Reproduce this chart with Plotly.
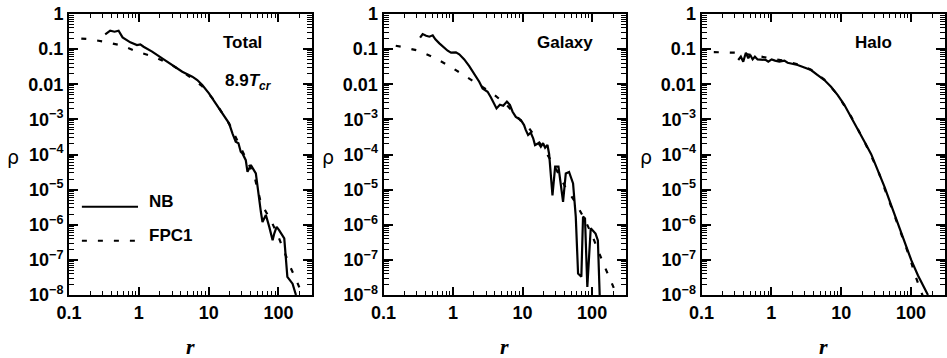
import plotly.graph_objects as go

# ---------------- data ----------------
panel_names = ["Total", "Galaxy", "Halo"]

total_nb_r = [0.33, 0.389, 0.449, 0.513, 0.585, 0.755, 0.94, 1.05, 1.17, 1.55, 2.16, 3.0, 4.19, 5.83, 6.87,
              8.1, 10.1, 12.6, 15.7, 19.6, 21.9, 24.4, 26.7, 28.8, 30.5, 34, 36, 40.2, 47.4, 50, 56, 59, 66,
              73.8, 82.4, 87, 94, 102, 121, 134, 159, 178]
total_nb_rho = [0.264, 0.335, 0.313, 0.335, 0.216, 0.156, 0.131, 0.137, 0.117, 0.085, 0.0546, 0.0352, 0.0228,
                0.0164, 0.0132, 0.0095, 0.0055, 0.00285, 0.00148, 7.7e-4, 4.0e-4, 2.3e-4, 2.1e-4, 1.2e-4,
                1.07e-4, 6.9e-5, 3.2e-5, 5.0e-5, 2.9e-5, 1.2e-5, 2.3e-6, 1.2e-6, 1.9e-6, 8.7e-7, 3.6e-7,
                5.6e-7, 8.7e-7, 7.0e-7, 4.1e-7, 3.3e-8, 2.1e-8, 1.0e-8]
total_fpc_r = [0.15, 0.186, 0.322, 0.573, 0.94, 1.63, 3.0, 5.0, 8.0, 12.0, 20.0, 30.0, 45.0, 56.0, 80.0,
               100.0, 130.0, 146.0, 184.0, 220.0]
total_fpc_rho = [0.2, 0.194, 0.163, 0.126, 0.085, 0.061, 0.035, 0.018, 0.009, 0.0035, 7e-4, 1.3e-4, 2.5e-5,
                 4.2e-6, 1.2e-6, 4.5e-7, 1.1e-7, 6.6e-8, 2.4e-8, 1.0e-8]

galaxy_nb_r = [0.336, 0.366, 0.41, 0.457, 0.51, 0.557, 0.636, 0.75, 0.837, 0.935, 1.1, 1.23, 1.45, 1.71,
               2.02, 2.38, 2.66, 3.14, 3.51, 3.91, 4.22, 4.72, 5.27, 5.95, 6.57, 7.18, 8.0, 9.46, 10.5, 11.1,
               12.0, 13.1, 14.2, 15.1, 16.9, 18.3, 19.7, 21.1, 22.8, 24.1, 26.9, 29.4, 32.8, 38.2, 41.8,
               46.6, 53.2, 58.2, 62.8, 70.0, 74.0, 79.0, 85.3, 95.5, 112.0, 121.0, 130.0]
galaxy_nb_rho = [0.211, 0.269, 0.241, 0.226, 0.247, 0.19, 0.146, 0.105, 0.09, 0.079, 0.081, 0.071, 0.051,
                 0.033, 0.0204, 0.0118, 0.0076, 0.0061, 0.0042, 0.0026, 0.00205, 0.0026, 0.00245, 0.0032,
                 0.0026, 0.00165, 0.00118, 9.5e-4, 6.9e-4, 5.0e-4, 3.6e-4, 4.2e-4, 2.9e-4, 1.86e-4, 2.1e-4,
                 1.66e-4, 2.1e-4, 1.55e-4, 1.86e-4, 1.02e-4, 6.9e-6, 4.5e-5, 4.5e-5, 4.5e-6, 2.9e-5, 3.2e-5,
                 1.5e-5, 1.7e-6, 4.1e-8, 3.3e-8, 1.7e-6, 1.5e-6, 1.7e-8, 7.9e-7, 5.6e-7, 3.6e-7, 5e-9]
galaxy_fpc_r = [0.15, 0.18, 0.32, 0.54, 0.885, 1.45, 2.5, 3.7, 6.0, 10.0, 12.4, 20.0, 30.0, 41.8, 57.0,
                80.0, 100.0, 130.0, 148.0, 185.0, 230.0]
galaxy_fpc_rho = [0.125, 0.117, 0.09, 0.057, 0.033, 0.018, 0.009, 0.0055, 0.0025, 8e-4, 5.6e-4, 1.5e-4,
                  4e-5, 1.1e-5, 4.5e-6, 1.3e-6, 5e-7, 1.3e-7, 7.1e-8, 2.6e-8, 9e-9]

halo_nb_r = [0.336, 0.366, 0.396, 0.432, 0.468, 0.5, 0.54, 0.582, 0.636, 0.75, 0.837, 0.905, 1.01, 1.13,
             1.3, 1.54, 1.71, 1.91, 2.38, 2.97, 3.7, 4.61, 5.75, 7.16, 8.93, 11.1, 13.9, 17.3, 21.6, 26.9,
             33.5, 41.8, 52.0, 64.8, 80.9, 101.0, 126.0, 175.0]
halo_nb_rho = [0.049, 0.061, 0.044, 0.079, 0.055, 0.068, 0.051, 0.061, 0.051, 0.051, 0.049, 0.044, 0.051,
               0.047, 0.044, 0.047, 0.041, 0.039, 0.0352, 0.030, 0.0254, 0.0183, 0.0132, 0.0085, 0.0049,
               0.0026, 0.00118, 5.0e-4, 2.3e-4, 1.02e-4, 3.6e-5, 1.2e-5, 3.6e-6, 1.1e-6, 3.2e-7, 9.8e-8,
               3.6e-8, 1.0e-8]
halo_fpc_r = [0.15, 0.18, 0.32, 0.6, 1.0, 1.5, 2.4, 3.7, 5.75, 8.9, 13.9, 21.6, 33.5, 52.0, 81.0, 100.0,
              113.0, 137.0, 160.0]
halo_fpc_rho = [0.082, 0.081, 0.079, 0.065, 0.055, 0.047, 0.037, 0.026, 0.0135, 0.005, 0.0012, 2.3e-4,
                3.6e-5, 3.5e-6, 3.0e-7, 9e-8, 4e-8, 1.4e-8, 6e-9]

x_tick_vals = [0.1, 1, 10, 100]
x_tick_text = ["0.1", "1", "10", "100"]
y_tick_vals = [1, 0.1, 0.01, 1e-3, 1e-4, 1e-5, 1e-6, 1e-7, 1e-8]
y_tick_text = ["1", "0.1", "0.01", "10<sup>−3</sup>", "10<sup>−4</sup>", "10<sup>−5</sup>",
               "10<sup>−6</sup>", "10<sup>−7</sup>", "10<sup>−8</sup>"]
legend_labels = ["NB", "FPC1"]
time_label = "8.9"

series = [
    (total_nb_r, total_nb_rho, total_fpc_r, total_fpc_rho),
    (galaxy_nb_r, galaxy_nb_rho, galaxy_fpc_r, galaxy_fpc_rho),
    (halo_nb_r, halo_nb_rho, halo_fpc_r, halo_fpc_rho),
]

# ---------------- figure ----------------
W, H = 947, 358
x_domains = [(69 / W, 312 / W), (383.5 / W, 625.5 / W), (701.5 / W, 944.5 / W)]
y_domain = (1 - 295 / H, 1 - 14 / H)
X_RANGE = [-1, 2.48]
Y_RANGE = [-8, 0]

FONT = "Liberation Sans"
minor_x = [m * 10.0 ** e for e in range(-1, 3) for m in range(2, 10)]
minor_y = [m * 10.0 ** e for e in range(-8, 0) for m in range(2, 10)]

fig = go.Figure()
layout = dict(
    width=W, height=H,
    margin=dict(l=0, r=0, t=0, b=0, autoexpand=False),
    paper_bgcolor="white", plot_bgcolor="white",
    showlegend=False,
    font=dict(family=FONT, color="black", size=18),
)

annotations = []
shapes = []
dash = "5px,11px"

base = dict(
    type="log", showline=True, linecolor="black", linewidth=2, mirror="ticks",
    ticks="inside", tickcolor="black", showgrid=False, zeroline=False, automargin=False,
    tickfont=dict(family=FONT, size=18, color="black"),
)

n = len(series)
for i, (nb_r, nb_rho, fpc_r, fpc_rho) in enumerate(series):
    k = "" if i == 0 else str(i + 1)
    xa, ya = "x" + k, "y" + k
    fig.add_trace(go.Scatter(x=fpc_r, y=fpc_rho, mode="lines", name=legend_labels[1],
                             line=dict(color="black", width=2.2, dash=dash),
                             xaxis=xa, yaxis=ya))
    fig.add_trace(go.Scatter(x=nb_r, y=nb_rho, mode="lines", name=legend_labels[0],
                             line=dict(color="black", width=2.2),
                             xaxis=xa, yaxis=ya))
    layout["xaxis" + k] = dict(
        base, domain=list(x_domains[i]), range=X_RANGE, anchor=ya,
        tickmode="array", tickvals=x_tick_vals, ticktext=["<b>%s</b>" % t for t in x_tick_text],
        ticklen=8, tickwidth=1.6,
    )
    layout["yaxis" + k] = dict(
        base, domain=list(y_domain), range=Y_RANGE, anchor=xa,
        tickmode="array", tickvals=y_tick_vals, ticktext=["<b>%s</b>" % t for t in y_tick_text],
        ticklen=9, tickwidth=1.6,
    )
    # overlay axes carrying the minor ticks
    mx = str(n + 1 + i)
    layout["xaxis" + mx] = dict(
        base, domain=list(x_domains[i]), range=X_RANGE, anchor=ya, overlaying=xa,
        tickmode="array", tickvals=minor_x, showticklabels=False, ticklen=4, tickwidth=1.4,
    )
    layout["yaxis" + mx] = dict(
        base, domain=list(y_domain), range=Y_RANGE, anchor=xa, overlaying=ya,
        tickmode="array", tickvals=minor_y, showticklabels=False, ticklen=5, tickwidth=1.4,
    )
    # axis titles
    annotations.append(dict(text="<b><i>r</i></b>", xref=xa + " domain", yref=ya + " domain",
                            x=0.5, y=-0.185, showarrow=False, xanchor="center", yanchor="middle",
                            font=dict(family="Liberation Serif", size=22, color="black")))
    annotations.append(dict(text="ρ", xref=xa + " domain", yref=ya + " domain",
                            x=0, xshift=-56, y=0.5, yshift=-2, showarrow=False,
                            xanchor="center", yanchor="middle",
                            font=dict(family="DejaVu Sans", size=19, color="black")))
    # panel label
    px = [0.712, 0.75, 0.706][i]
    annotations.append(dict(text="<b>" + panel_names[i] + "</b>", xref=xa + " domain",
                            yref=ya + " domain", x=px, y=0.897, showarrow=False,
                            xanchor="center", yanchor="middle",
                            font=dict(family=FONT, size=17, color="black")))

# empty traces so the minor-tick overlay axes are drawn
for i in range(n):
    mx = str(n + 1 + i)
    fig.add_trace(go.Scatter(x=[], y=[], xaxis="x" + mx, yaxis="y" + mx, showlegend=False,
                             hoverinfo="skip"))

# time label in the first panel
annotations.append(dict(text="<b>" + time_label + "<i>T</i><sub><i>cr</i></sub></b>",
                        xref="x domain", yref="y domain", x=0.737, y=0.758, showarrow=False,
                        xanchor="center", yanchor="middle",
                        font=dict(family=FONT, size=17, color="black")))

# legend key inside first panel
shapes.append(dict(type="line", xref="x domain", yref="y domain", x0=0.053, x1=0.284,
                   y0=0.314, y1=0.314, line=dict(color="black", width=2.2)))
shapes.append(dict(type="line", xref="x domain", yref="y domain", x0=0.053, x1=0.284,
                   y0=0.193, y1=0.193, line=dict(color="black", width=2.2, dash=dash)))
annotations.append(dict(text="<b>" + legend_labels[0] + "</b>", xref="x domain", yref="y domain",
                        x=0.32, y=0.331, showarrow=False, xanchor="left", yanchor="middle",
                        font=dict(family=FONT, size=17, color="black")))
annotations.append(dict(text="<b>" + legend_labels[1] + "</b>", xref="x domain", yref="y domain",
                        x=0.32, y=0.2135, showarrow=False, xanchor="left", yanchor="middle",
                        font=dict(family=FONT, size=17, color="black")))

layout["annotations"] = annotations
layout["shapes"] = shapes
fig.update_layout(**layout)
fig.write_html("out.html",
               config={"displayModeBar": False},
               post_script="document.body.style.margin='0';document.body.style.padding='0';")
